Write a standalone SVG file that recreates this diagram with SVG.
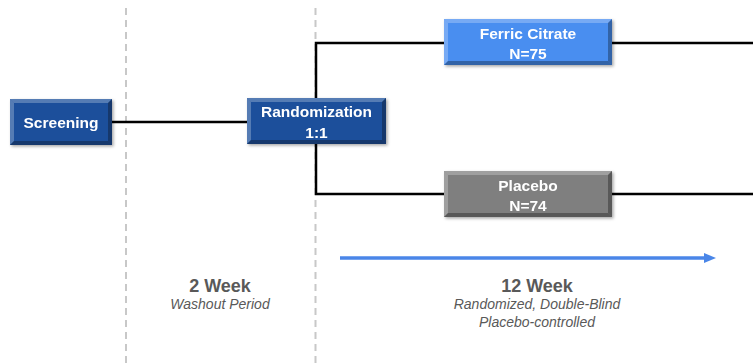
<svg xmlns="http://www.w3.org/2000/svg" width="753" height="363" viewBox="0 0 753 363">
<defs>
<style>
.lbl{font-family:"Liberation Sans",Arial,sans-serif;font-weight:bold;font-size:15.5px;fill:#fff;text-anchor:middle}
.wk{font-family:"Liberation Sans",Arial,sans-serif;font-weight:bold;font-size:18px;fill:#595959;text-anchor:middle}
.sub{font-family:"Liberation Sans",Arial,sans-serif;font-style:italic;font-size:14px;fill:#595959;text-anchor:middle}
.dash{stroke:#c8c8c8;stroke-width:2;stroke-dasharray:7 5;fill:none}
.conn{stroke:#000;stroke-width:2.5;fill:none}
.hl{fill:#fff;opacity:0.25}
.sh{fill:#000;opacity:0.3}
</style>
<filter id="ds" x="-10%" y="-20%" width="125%" height="150%">
<feDropShadow dx="1.5" dy="1.5" stdDeviation="1.5" flood-color="#000" flood-opacity="0.35"/>
</filter>
<marker id="ah" markerWidth="12" markerHeight="10" refX="1" refY="5" orient="auto" markerUnits="userSpaceOnUse">
<path d="M0,0 L12,5 L0,10 Z" fill="#4a86e8"/>
</marker>
</defs>
<rect width="753" height="363" fill="#fff"/>
<g id="dividers">
<line class="dash" x1="126" y1="8" x2="126" y2="363"/>
<line class="dash" x1="315.5" y1="8" x2="315.5" y2="363"/>
</g>
<g id="connectors">
<line class="conn" x1="112" y1="122" x2="248" y2="122"/>
<polyline class="conn" points="444,43 316,43 316,194 444,194"/>
<line class="conn" x1="612" y1="43" x2="753" y2="43"/>
<line class="conn" x1="612" y1="194" x2="753" y2="194"/>
<line x1="340" y1="258" x2="705" y2="258" stroke="#4a86e8" stroke-width="3.5" marker-end="url(#ah)"/>
</g>
<g id="screening" filter="url(#ds)">
<rect x="10" y="99" width="102" height="46" fill="#1c4f9b"/>
<polygon class="hl" points="10,99 112,99 108,103 14,103"/>
<polygon class="hl" points="10,99 14,103 14,141 10,145"/>
<polygon class="sh" points="112,99 112,145 108,141 108,103"/>
<polygon class="sh" points="10,145 112,145 108,141 14,141"/>
<text class="lbl" x="61" y="128">Screening</text>
</g>
<g id="randomization" filter="url(#ds)">
<rect x="247" y="98" width="139" height="46" fill="#1c4f9b"/>
<polygon class="hl" points="247,98 386,98 382,102 251,102"/>
<polygon class="hl" points="247,98 251,102 251,140 247,144"/>
<polygon class="sh" points="386,98 386,144 382,140 382,102"/>
<polygon class="sh" points="247,144 386,144 382,140 251,140"/>
<text class="lbl" x="316.5" y="117">Randomization</text>
<text class="lbl" x="316.5" y="138">1:1</text>
</g>
<g id="ferric" filter="url(#ds)">
<rect x="444" y="19" width="168" height="46" fill="#4a8ef0"/>
<polygon class="hl" points="444,19 612,19 608,23 448,23"/>
<polygon class="hl" points="444,19 448,23 448,61 444,65"/>
<polygon class="sh" points="612,19 612,65 608,61 608,23"/>
<polygon class="sh" points="444,65 612,65 608,61 448,61"/>
<text class="lbl" x="528" y="39">Ferric Citrate</text>
<text class="lbl" x="528" y="59">N=75</text>
</g>
<g id="placebo" filter="url(#ds)">
<rect x="444" y="171" width="168" height="46" fill="#7f7f7f"/>
<polygon class="hl" points="444,171 612,171 608,175 448,175"/>
<polygon class="hl" points="444,171 448,175 448,213 444,217"/>
<polygon class="sh" points="612,171 612,217 608,213 608,175"/>
<polygon class="sh" points="444,217 612,217 608,213 448,213"/>
<text class="lbl" x="528" y="191">Placebo</text>
<text class="lbl" x="528" y="211">N=74</text>
</g>
<g id="labels">
<text class="wk" x="220" y="292">2 Week</text>
<text class="sub" x="220" y="309">Washout Period</text>
<text class="wk" x="537" y="292">12 Week</text>
<text class="sub" x="537" y="309">Randomized, Double-Blind</text>
<text class="sub" x="537" y="327">Placebo-controlled</text>
</g>
</svg>
